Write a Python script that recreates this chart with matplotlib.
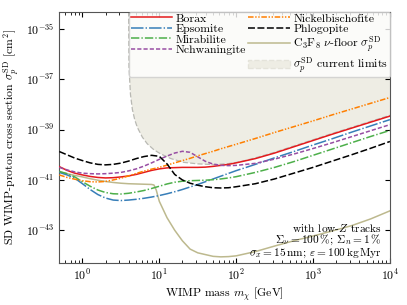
import numpy as np
import matplotlib
matplotlib.use('Agg')
import matplotlib.pyplot as plt
from matplotlib.patches import Patch

plt.rcParams['font.family'] = 'serif'
plt.rcParams['font.serif'] = ['cmr10']
plt.rcParams['mathtext.fontset'] = 'cm'
plt.rcParams['axes.formatter.use_mathtext'] = True
plt.rcParams['axes.unicode_minus'] = False
plt.rcParams['lines.scale_dashes'] = False

# ── data (log10 of WIMP mass in GeV / log10 of cross section in cm^2) ──
log_m = [-0.301, -0.2, -0.1, 0.0, 0.1, 0.2, 0.3, 0.4, 0.5, 0.6, 0.7, 0.8, 0.9, 1.0,
         1.1, 1.2, 1.3, 1.4, 1.5, 1.6, 1.7, 1.8, 1.9, 2.0,
         2.25, 2.5, 2.75, 3.0, 3.25, 3.5, 3.75, 4.0]

borax = [-40.47, -40.62, -40.73, -40.80, -40.86, -40.90, -40.92, -40.91, -40.88, -40.84,
         -40.78, -40.70, -40.62, -40.56, -40.52, -40.51, -40.50, -40.50, -40.50, -40.49,
         -40.46, -40.42, -40.38, -40.32, -40.15, -39.93, -39.68, -39.43, -39.18, -38.94,
         -38.70, -38.46]
epsomite = [-40.70, -40.80, -40.93, -41.15, -41.38, -41.58, -41.72, -41.80, -41.82, -41.80,
            -41.77, -41.73, -41.68, -41.62, -41.55, -41.47, -41.38, -41.28, -41.18, -41.07,
            -40.96, -40.85, -40.74, -40.63, -40.38, -40.12, -39.87, -39.61, -39.36, -39.10,
            -38.85, -38.60]
mirabilite = [-40.66, -40.75, -40.88, -41.07, -41.25, -41.40, -41.50, -41.55, -41.56, -41.53,
              -41.48, -41.42, -41.34, -41.25, -41.16, -41.09, -41.05, -41.03, -41.02, -41.01,
              -40.99, -40.96, -40.92, -40.87, -40.70, -40.50, -40.27, -40.02, -39.77, -39.52,
              -39.27, -39.03]
nchwaningite = [-40.50, -40.60, -40.68, -40.73, -40.75, -40.76, -40.75, -40.73, -40.70, -40.64,
                -40.56, -40.45, -40.32, -40.18, -40.05, -39.93, -39.86, -39.90, -40.08, -40.26,
                -40.37, -40.42, -40.43, -40.42, -40.34, -40.17, -39.97, -39.75, -39.52, -39.28,
                -39.04, -38.80]
nickelbischofite = [-40.80, -40.90, -40.97, -41.03, -41.07, -41.08, -41.06, -41.00, -40.93, -40.84,
                    -40.74, -40.65, -40.57, -40.50, -40.41, -40.32, -40.23, -40.14, -40.04, -39.95,
                    -39.86, -39.76, -39.67, -39.58, -39.35, -39.11, -38.88, -38.65, -38.41, -38.18,
                    -37.95, -37.72]
phlogopite = [-39.87, -40.00, -40.13, -40.23, -40.32, -40.38, -40.40, -40.38, -40.33, -40.25,
              -40.15, -40.07, -40.02, -40.06, -40.36, -40.78, -41.00, -41.13, -41.21, -41.27,
              -41.31, -41.32, -41.31, -41.27, -41.15, -40.96, -40.73, -40.50, -40.25, -40.00,
              -39.74, -39.47]

floor_log_m = [-0.301, -0.2, -0.1, 0.0, 0.1, 0.2, 0.3, 0.4, 0.5, 0.6, 0.7, 0.8, 0.9, 0.93,
               0.96, 1.0, 1.1, 1.2, 1.3, 1.4, 1.5, 1.6, 1.7, 1.8, 1.9, 2.0,
               2.25, 2.5, 2.75, 3.0, 3.25, 3.5, 3.75, 4.0]
nu_floor = [-40.68, -40.75, -40.82, -40.88, -40.95, -41.01, -41.06, -41.10, -41.13, -41.15,
            -41.16, -41.17, -41.18, -41.20, -41.40, -41.85, -42.50, -43.00, -43.42, -43.75,
            -43.90, -43.97, -44.04, -44.06, -44.05, -44.02, -43.85, -43.63, -43.42, -43.23,
            -43.03, -42.82, -42.55, -42.23]

limit_log_m = [0.60, 0.605, 0.625, 0.65, 0.68, 0.713, 0.78, 0.843, 0.93, 1.016, 1.15, 1.318,
               1.5, 1.707, 1.9, 2.05, 2.25, 2.5, 2.75, 3.0, 3.25, 3.5, 3.75, 4.0]
limit = [-34.0, -36.5, -37.6, -38.2, -38.6, -38.9, -39.3, -39.56, -39.8, -39.96, -40.15, -40.30,
         -40.36, -40.39, -40.35, -40.28, -40.12, -39.90, -39.65, -39.40, -39.15, -38.91,
         -38.67, -38.43]

m = 10.0 ** np.array(log_m)

fig = plt.figure(figsize=(4.07, 3.05), dpi=100)
ax = fig.add_axes([0.1457, 0.138, 0.8123, 0.824])

fill_c = '#eeede4'
lm = 10.0 ** np.array(limit_log_m)
ls_ = 10.0 ** np.array(limit)
px = np.concatenate([lm, [lm[-1] * 2, lm[-1] * 2, lm[0]]])
py = np.concatenate([ls_, [ls_[-1], 1e-33, 1e-33]])
ax.fill(px, py, facecolor=fill_c, edgecolor='#b9b9b3', linestyle='--', linewidth=0.9, zorder=1)

lw = 1.1
ax.plot(m, 10.0 ** np.array(borax), color='#e41a1c', lw=lw, label='Borax', zorder=3)
ax.plot(m, 10.0 ** np.array(epsomite), color='#377eb8', lw=lw, dashes=(9, 1.5, 1, 1.5),
        label='Epsomite', zorder=3)
ax.plot(m, 10.0 ** np.array(mirabilite), color='#4daf4a', lw=lw, dashes=(6, 1.5, 1, 1.5),
        label='Mirabilite', zorder=3)
ax.plot(m, 10.0 ** np.array(nchwaningite), color='#984ea3', lw=lw, dashes=(3, 1.5),
        label='Nchwaningite', zorder=3)
ax.plot(m, 10.0 ** np.array(nickelbischofite), color='#ff7f00', lw=lw,
        dashes=(4, 1.2, 1, 1.2, 1, 1.2), label='Nickelbischofite', zorder=3)
ax.plot(m, 10.0 ** np.array(phlogopite), color='black', lw=lw, dashes=(5, 1.8),
        label='Phlogopite', zorder=3)
ax.plot(10.0 ** np.array(floor_log_m), 10.0 ** np.array(nu_floor), color='#bdb98e', lw=lw,
        label=r'C$_3$F$_8$ $\nu$-floor $\sigma_p^\mathrm{SD}$', zorder=2)

handles, labels = ax.get_legend_handles_labels()
handles.append(Patch(facecolor=fill_c, edgecolor='#e4e3da', linestyle='--'))
labels.append(r'$\sigma_p^\mathrm{SD}$ current limits')
ax.legend(handles, labels, ncol=2, loc='upper right', bbox_to_anchor=(1.0, 1.0),
          borderaxespad=0.0, handlelength=3.5, handletextpad=0.3, columnspacing=0.2,
          labelspacing=0.02, borderpad=0.15, fontsize=8.5, framealpha=0.8, edgecolor='0.8')

ax.set_xscale('log')
ax.set_yscale('log')
ax.set_xlim(0.5, 1e4)
ax.set_ylim(5e-45, 5e-35)
ax.set_yticks([1e-43, 1e-41, 1e-39, 1e-37, 1e-35])
ax.yaxis.set_minor_locator(matplotlib.ticker.NullLocator())
ax.tick_params(which='both', direction='in', top=True, right=True, labelsize=8.5)
ax.tick_params(which='major', length=3.5)
ax.tick_params(which='minor', length=2)
for s in ax.spines.values():
    s.set_color('#555555')

ax.set_xlabel(r'WIMP mass $m_\chi$ [GeV]', fontsize=8.5, labelpad=2)
ax.set_ylabel(r'SD WIMP-proton cross section $\sigma_p^\mathrm{SD}$ [cm$^2$]', fontsize=8.5,
              labelpad=3)

ax.text(0.976, 0.124, r'with low-$Z$ tracks', transform=ax.transAxes, ha='right',
        va='baseline', fontsize=8.2)
ax.text(0.976, 0.078, r'$\Sigma_\nu = 100\,\%$; $\Sigma_n = 1\,\%$', transform=ax.transAxes,
        ha='right', va='baseline', fontsize=8.2)
ax.text(0.976, 0.029, r'$\sigma_x = 15\,$nm; $\varepsilon = 100\,$kg$\,$Myr',
        transform=ax.transAxes, ha='right', va='baseline', fontsize=8.2)

fig.savefig('out.png', dpi=100)
